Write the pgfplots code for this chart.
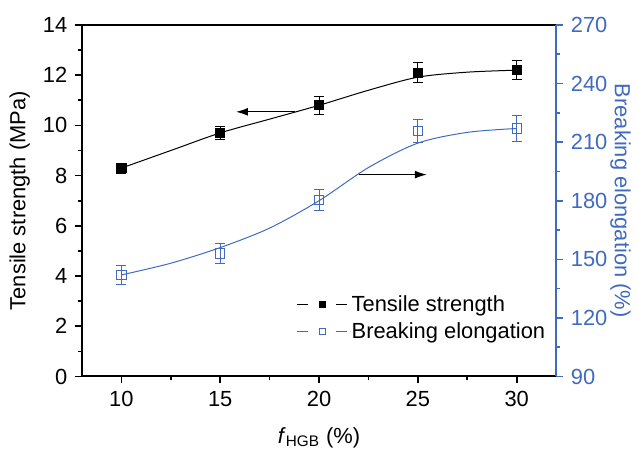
\documentclass[border=0pt,11pt]{standalone}
\usepackage{fontspec}
\setmainfont{Liberation Sans}
\usepackage{pgfplots}
\usepackage{pgfplotstable}
\pgfplotsset{compat=1.18}
\usetikzlibrary{arrows.meta}
\definecolor{elblue}{RGB}{64,106,192}

% measured points with error bars
\pgfplotstableread{
x  y    err
10 8.3  0.20
15 9.7  0.26
20 10.8 0.36
25 12.1 0.40
30 12.2 0.38
}\tensile
\pgfplotstableread{
x  y     err
10 142   4.7
15 153   5.0
20 180.5 5.5
25 215.8 6.0
30 217   6.5
}\elong
% fitted curves
\pgfplotstableread{
x    y
10   8.3
12.5 9.0
15   9.7
17.5 10.25
20   10.8
22.5 11.4
25   11.92
27.5 12.12
30   12.2
}\tensilefit
\pgfplotstableread{
x    y
10   142
12.5 148
15   156
17.5 166
20   180
22.5 197
25   209.5
27.5 215
30   217
}\elongfit

\pgfplotsset{
  base/.style={
    scale only axis, width=237.5bp, height=176bp,
    xmin=8, xmax=32,
    tick align=outside,
    major tick length=3.5bp, minor tick length=2bp,
    every tick/.style={line width=0.8bp},
    /pgf/number format/assume math mode=true,
    tick label style={font=\fontsize{11}{13}\selectfont},
    label style={font=\fontsize{11}{13}\selectfont},
  },
  ebars/.style={
    /pgfplots/error bars/y dir=both,
    /pgfplots/error bars/y explicit,
    /pgfplots/error bars/error bar style={line width=0.5pt},
    /pgfplots/error bars/error mark options={rotate=90, mark size=2.5pt, line width=0.5pt},
  },
}

\begin{document}
\begin{tikzpicture}
\begin{axis}[base, name=ax,
    ymin=0, ymax=14, ytick={0,2,...,14},
    xtick={10,15,...,30}, minor tick num=1,
    xtick pos=bottom, ytick pos=left,
    axis line style={line width=1bp},
    xlabel={\textit{f}\textsubscript{HGB} (\%)},
    xlabel shift=3bp,
    ylabel={Tensile strength (MPa)},
    ylabel shift=-1bp,
  ]
  \addplot[black, line width=0.5pt, smooth, forget plot] table[x=x,y=y] {\tensilefit};
  \addplot[black, only marks, mark=square*, mark size=2.3pt,
    forget plot, ebars] table[x=x, y=y, y error=err] {\tensile};
  \draw[line width=0.6pt, -{Latex[length=6pt,width=4pt]}]
    (axis cs:18.8,10.54) -- (axis cs:15.8,10.54);
  \draw[line width=0.6pt, -{Latex[length=6pt,width=4pt]}]
    (axis cs:22.0,8.04) -- (axis cs:25.45,8.04);
\end{axis}
\begin{axis}[base,
    axis y line*=right, axis x line=none,
    ymin=90, ymax=270, ytick={90,120,...,270}, minor y tick num=1,
    y axis line style={elblue, line width=1bp},
    y tick style={elblue},
    yticklabel style={text=elblue},
    ylabel={Breaking elongation (\%)},
    ylabel style={text=elblue, rotate=180},
    ylabel shift=-6bp,
    legend style={at={(0.44,0.255)}, anchor=north west, draw=none, fill=none,
      font=\fontsize{11}{13}\selectfont},
    legend cell align=left,
    legend image code/.code={
      \draw[#1] (0bp,0bp) -- (5.5bp,0bp);
      \draw[#1] (19.5bp,0bp) -- (25bp,0bp);
      \draw[#1, only marks] plot coordinates {(12.5bp,0bp)};},
  ]
  \addlegendimage{black, line width=0.4pt, mark=square*, mark size=1.5pt}
  \addlegendentry{Tensile strength}
  \addlegendimage{elblue, line width=0.4pt, mark=square, mark size=1.5pt, mark options={fill=white}}
  \addlegendentry{Breaking elongation}
  \addplot[elblue, line width=0.5pt, smooth, forget plot] table[x=x,y=y] {\elongfit};
  \addplot[elblue, only marks, mark=square, mark size=2.3pt,
    mark options={fill=white}, forget plot, ebars]
    table[x=x, y=y, y error=err] {\elong};
\end{axis}
\path ([shift={(-41bp,-38bp)}]ax.south west) rectangle ([shift={(40.5bp,12.5bp)}]ax.north east);
\end{tikzpicture}
\end{document}
